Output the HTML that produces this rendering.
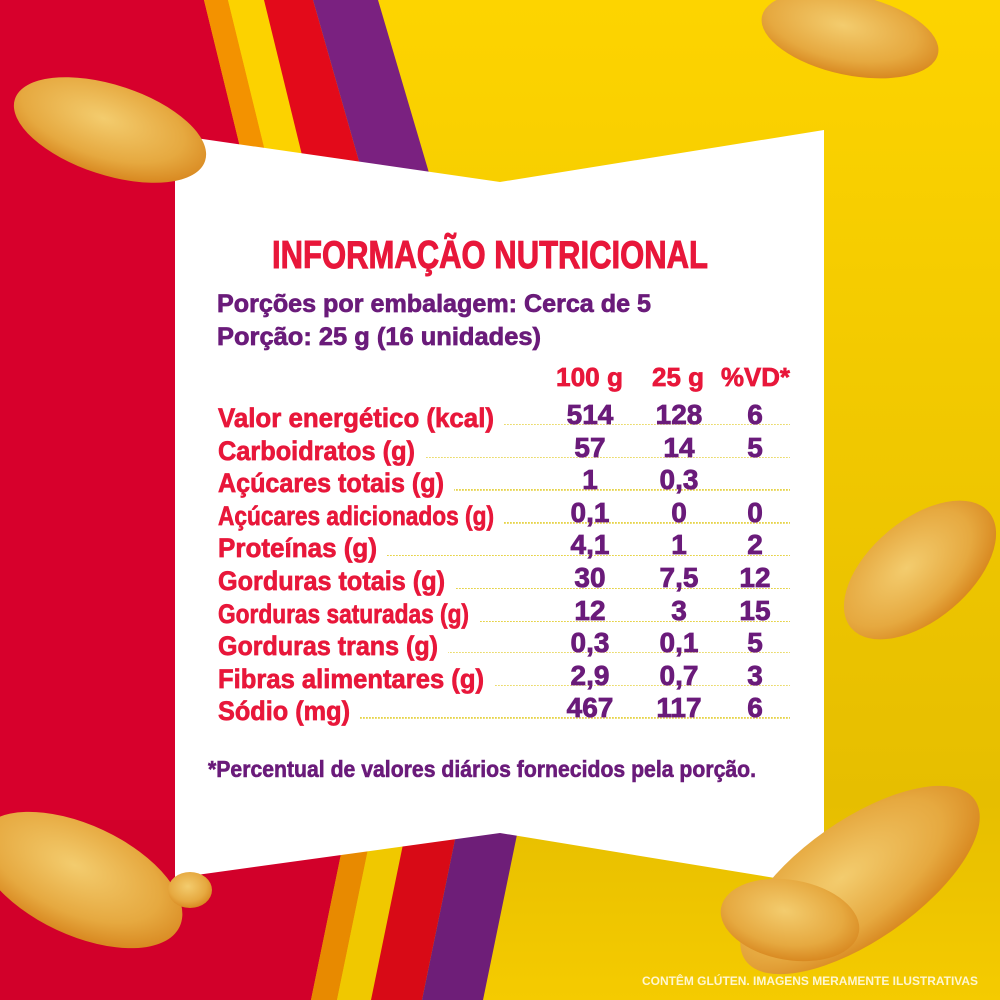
<!DOCTYPE html>
<html><head><meta charset="utf-8"><style>
html,body{margin:0;padding:0;width:1000px;height:1000px;overflow:hidden;background:#fcd200}
svg{display:block}
text{font-family:"Liberation Sans Narrow","Liberation Sans",sans-serif;font-weight:bold}
</style></head><body>
<svg width="1000" height="1000" viewBox="0 0 1000 1000" xmlns="http://www.w3.org/2000/svg">
<defs>
<radialGradient id="chip" cx="45%" cy="40%" r="60%">
<stop offset="0" stop-color="#f3cc6e"/><stop offset="0.7" stop-color="#e6a940"/><stop offset="1" stop-color="#d98a22"/>
</radialGradient>
<linearGradient id="yel" x1="0" y1="0" x2="0" y2="1">
<stop offset="0" stop-color="#fdd400"/><stop offset="0.8" stop-color="#e6be00"/><stop offset="1" stop-color="#f5cb00"/>
</linearGradient>
<pattern id="dots" width="3" height="3" patternUnits="userSpaceOnUse"><rect width="1.8" height="1.8" fill="#e6d348"/></pattern>
</defs>
<rect width="1000" height="1000" fill="url(#yel)"/>
<polygon points="0,0 204,0 253,200 0,200" fill="#d7002c"/>
<polygon points="204,0 228,0 277,200 253,200" fill="#f39200"/>
<polygon points="228,0 264,0 313,200 277,200" fill="#fcd200"/>
<polygon points="264,0 313,0 370,200 313,200" fill="#e30a1a"/>
<polygon points="313,0 378,0 437,200 370,200" fill="#7a2180"/>
<polygon points="0,820 348,820 311,1000 0,1000" fill="#d2002a"/>
<polygon points="348,820 374,820 337,1000 311,1000" fill="#e88a00"/>
<polygon points="374,820 408,820 371,1000 337,1000" fill="#f0c800"/>
<polygon points="408,820 459,820 422,1000 371,1000" fill="#d80a16"/>
<polygon points="459,820 520,820 483,1000 422,1000" fill="#6e1e78"/>
<rect x="0" y="200" width="175" height="620" fill="#d7002c"/>
<polygon points="175,135 500,182 824,130 824,886 500,833 175,878" fill="#ffffff"/>
<g fill="url(#chip)">
<ellipse cx="110" cy="130" rx="100" ry="45" transform="rotate(18 110 130)"/>
<ellipse cx="850" cy="35" rx="90" ry="40" transform="rotate(12 850 35)"/>
<ellipse cx="920" cy="570" rx="90" ry="50" transform="rotate(-40 920 570)"/>
<ellipse cx="80" cy="880" rx="110" ry="55" transform="rotate(25 80 880)"/>
<ellipse cx="190" cy="890" rx="22" ry="18"/>
<ellipse cx="860" cy="880" rx="140" ry="60" transform="rotate(-35 860 880)"/>
<ellipse cx="790" cy="920" rx="70" ry="40" transform="rotate(10 790 920)"/>
</g>
<text x="272" y="268" font-size="39" fill="#e8173a" stroke="#e8173a" stroke-width="1" textLength="436" lengthAdjust="spacingAndGlyphs">INFORMAÇÃO NUTRICIONAL</text>
<g fill="#6a1b7a" stroke="#6a1b7a" stroke-width="0.7">
<text x="217" y="312" font-size="25" textLength="434" lengthAdjust="spacingAndGlyphs">Porções por embalagem: Cerca de 5</text>
<text x="217" y="345" font-size="25" textLength="324" lengthAdjust="spacingAndGlyphs">Porção:  25 g (16 unidades)</text>
</g>
<g fill="#e8173a" stroke="#e8173a" stroke-width="0.7" font-size="26">
<text x="556" y="386" textLength="67" lengthAdjust="spacingAndGlyphs">100 g</text>
<text x="652" y="386" textLength="52" lengthAdjust="spacingAndGlyphs">25 g</text>
<text x="721" y="386" textLength="69" lengthAdjust="spacingAndGlyphs">%VD*</text>
</g>
<g fill="url(#dots)">
<rect x="504" y="424" width="286" height="2"/>
<rect x="425" y="457" width="365" height="2"/>
<rect x="454" y="489" width="336" height="2"/>
<rect x="504" y="522" width="286" height="2"/>
<rect x="387" y="554" width="403" height="2"/>
<rect x="455" y="587" width="335" height="2"/>
<rect x="479" y="620" width="311" height="2"/>
<rect x="448" y="652" width="342" height="2"/>
<rect x="494" y="685" width="296" height="2"/>
<rect x="360" y="717" width="430" height="2"/>
</g>
<g fill="#e8173a" stroke="#e8173a" stroke-width="0.7" font-size="27">
<text x="218" y="427" textLength="276" lengthAdjust="spacingAndGlyphs">Valor energético (kcal)</text>
<text x="218" y="460" textLength="197" lengthAdjust="spacingAndGlyphs">Carboidratos (g)</text>
<text x="218" y="492" textLength="226" lengthAdjust="spacingAndGlyphs">Açúcares totais (g)</text>
<text x="218" y="525" textLength="276" lengthAdjust="spacingAndGlyphs">Açúcares adicionados (g)</text>
<text x="218" y="557" textLength="159" lengthAdjust="spacingAndGlyphs">Proteínas (g)</text>
<text x="218" y="590" textLength="227" lengthAdjust="spacingAndGlyphs">Gorduras totais (g)</text>
<text x="218" y="623" textLength="251" lengthAdjust="spacingAndGlyphs">Gorduras saturadas (g)</text>
<text x="218" y="655" textLength="220" lengthAdjust="spacingAndGlyphs">Gorduras trans (g)</text>
<text x="218" y="688" textLength="266" lengthAdjust="spacingAndGlyphs">Fibras alimentares (g)</text>
<text x="218" y="720" textLength="132" lengthAdjust="spacingAndGlyphs">Sódio (mg)</text>
</g>
<g fill="#6a1b7a" stroke="#6a1b7a" stroke-width="0.8" text-anchor="middle" font-size="28">
<text x="590" y="424">514</text><text x="679" y="424">128</text><text x="755" y="424">6</text>
<text x="590" y="457">57</text><text x="679" y="457">14</text><text x="755" y="457">5</text>
<text x="590" y="489">1</text><text x="679" y="489">0,3</text>
<text x="590" y="522">0,1</text><text x="679" y="522">0</text><text x="755" y="522">0</text>
<text x="590" y="554">4,1</text><text x="679" y="554">1</text><text x="755" y="554">2</text>
<text x="590" y="587">30</text><text x="679" y="587">7,5</text><text x="755" y="587">12</text>
<text x="590" y="620">12</text><text x="679" y="620">3</text><text x="755" y="620">15</text>
<text x="590" y="652">0,3</text><text x="679" y="652">0,1</text><text x="755" y="652">5</text>
<text x="590" y="685">2,9</text><text x="679" y="685">0,7</text><text x="755" y="685">3</text>
<text x="590" y="717">467</text><text x="679" y="717">117</text><text x="755" y="717">6</text>
</g>
<text x="208" y="777" font-size="23" fill="#6a1b7a" stroke="#6a1b7a" stroke-width="0.6" textLength="548" lengthAdjust="spacingAndGlyphs">*Percentual de valores diários fornecidos pela porção.</text>
<text x="642" y="985" font-size="12" fill="#fff6d0" font-weight="normal" textLength="336" lengthAdjust="spacingAndGlyphs">CONTÊM GLÚTEN. IMAGENS MERAMENTE ILUSTRATIVAS</text>
</svg>
</body></html>
